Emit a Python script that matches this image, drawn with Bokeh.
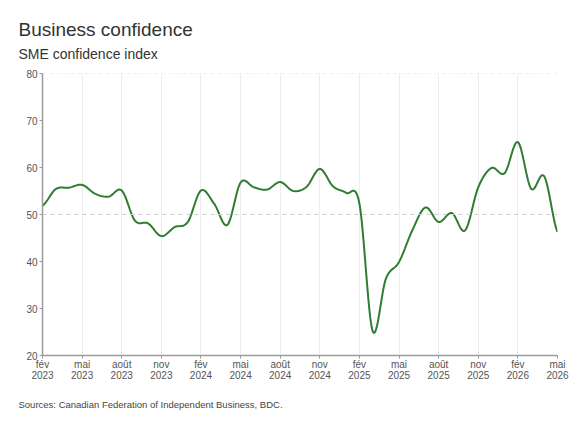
from bokeh.plotting import figure
from bokeh.models import Range1d, FixedTicker, Span, Title, ColumnDataSource
from bokeh.embed import file_html
from bokeh.resources import INLINE

# Monthly SME confidence index, February 2023 to May 2026
months = [
    "2023-02", "2023-03", "2023-04", "2023-05", "2023-06", "2023-07", "2023-08",
    "2023-09", "2023-10", "2023-11", "2023-12", "2024-01", "2024-02", "2024-03",
    "2024-04", "2024-05", "2024-06", "2024-07", "2024-08", "2024-09", "2024-10",
    "2024-11", "2024-12", "2025-01", "2025-02", "2025-03", "2025-04", "2025-05",
    "2025-06", "2025-07", "2025-08", "2025-09", "2025-10", "2025-11", "2025-12",
    "2026-01", "2026-02", "2026-03", "2026-04", "2026-05",
]
confidence = [
    51.9, 55.4, 55.7, 56.3, 54.4, 53.8, 55.1, 48.7, 48.1, 45.4, 47.3, 48.4,
    55.1, 52.3, 47.8, 56.8, 55.8, 55.3, 56.9, 55.0, 55.9, 59.7, 56.0, 54.6,
    52.3, 25.2, 36.3, 39.9, 46.6, 51.5, 48.4, 50.3, 46.6, 55.8, 59.9, 58.8,
    65.4, 55.5, 58.1, 46.3,
]
month_names = ["fév", "mai", "août", "nov"]
tick_years = ["2023", "2023", "2023", "2023", "2024", "2024", "2024", "2024",
              "2025", "2025", "2025", "2025", "2026", "2026"]
y_ticks = [20, 30, 40, 50, 60, 70, 80]

TITLE = "Business confidence"
SUBTITLE = "SME confidence index"
SOURCE = "Sources: Canadian Federation of Independent Business, BDC."

FONT = "Liberation Sans"
LINE_COLOR = "#2e7d32"


def smooth(values, samples=16):
    """Cardinal (Catmull-Rom) spline through the monthly points."""
    n = len(values)
    xs, ys = [], []
    for i in range(n - 1):
        p0 = values[i - 1] if i > 0 else values[i]
        p1 = values[i]
        p2 = values[i + 1]
        p3 = values[i + 2] if i + 2 < n else values[i + 1]
        m1 = (p2 - p0) / 2.0
        m2 = (p3 - p1) / 2.0
        for k in range(samples):
            t = k / samples
            h00 = 2 * t**3 - 3 * t**2 + 1
            h10 = t**3 - 2 * t**2 + t
            h01 = -2 * t**3 + 3 * t**2
            h11 = t**3 - t**2
            xs.append(i + t)
            ys.append(h00 * p1 + h10 * m1 + h01 * p2 + h11 * m2)
    xs.append(n - 1)
    ys.append(values[-1])
    return xs, ys


idx = list(range(len(months)))
sx, sy = smooth(confidence)
src = ColumnDataSource(data=dict(x=sx, y=sy))

p = figure(
    width=575, height=431,
    x_range=Range1d(0, len(months) - 1), y_range=Range1d(20, 80),
    output_backend="svg", toolbar_location=None,
    min_border_left=42, min_border_right=18, min_border_top=73, min_border_bottom=76,
    outline_line_color=None, background_fill_color="white", border_fill_color="white",
)

# headings: main title on top, subtitle next to the frame
p.title = Title(text=TITLE, align="left", offset=-24, standoff=-16,
                text_font=FONT, text_font_size="19px", text_font_style="normal",
                text_color="#333333")
p.add_layout(Title(text=SUBTITLE, align="left", offset=-24, standoff=24,
                   text_font=FONT, text_font_size="14px", text_font_style="normal",
                   text_color="#333333"), "above")
p.add_layout(Title(text=SOURCE, align="left", offset=-24, standoff=25,
                   text_font=FONT, text_font_size="9.5px", text_font_style="normal",
                   text_color="#444444"), "below")

# quarterly ticks on the time axis
quarter_ticks = idx[::3]
labels = {}
for j, t in enumerate(quarter_ticks):
    labels[t] = f"{month_names[j % 4]}\n{tick_years[j]}"

p.xaxis.ticker = FixedTicker(ticks=quarter_ticks)
p.xaxis.major_label_overrides = labels
p.yaxis.ticker = FixedTicker(ticks=y_ticks)

for ax in (p.xaxis, p.yaxis):
    ax.axis_line_color = "#9a9a9a"
    ax.axis_line_width = 1.5
    ax.major_tick_line_color = "#9a9a9a"
    ax.major_tick_in = 0
    ax.major_tick_out = 3
    ax.minor_tick_line_color = None
    ax.major_label_text_font = FONT
    ax.major_label_text_font_size = "10px"
    ax.major_label_text_color = "#555555"
    ax.major_label_standoff = 2
p.xaxis.major_label_standoff = 0
p.xaxis.major_label_text_line_height = 1.05

p.xgrid.ticker = FixedTicker(ticks=quarter_ticks)
p.xgrid.grid_line_color = "#ededed"
p.ygrid.grid_line_color = None

p.add_layout(Span(location=50, dimension="width", line_color="#cfcfcf",
                  line_dash="4 4", line_width=1))
p.add_layout(Span(location=80, dimension="width", line_color="#e4e4e4",
                  line_dash="4 3", line_width=1))

p.line("x", "y", source=src, line_color=LINE_COLOR, line_width=2)

open("out.html", "w").write(file_html(p, INLINE))
